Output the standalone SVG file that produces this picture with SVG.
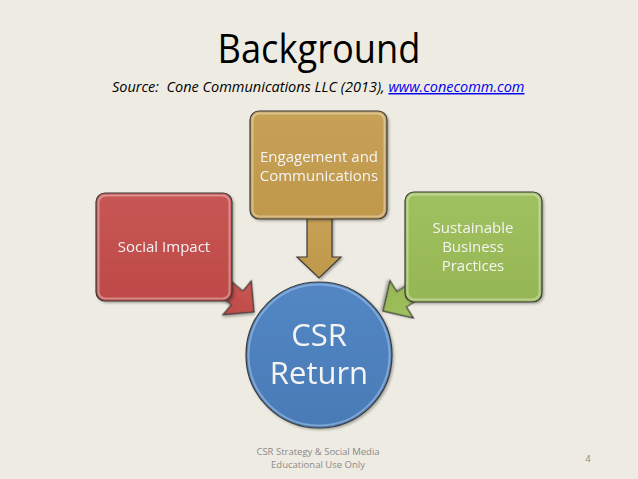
<svg xmlns="http://www.w3.org/2000/svg" width="638" height="479" viewBox="0 0 638 479">
<defs>
<style>
.title{font-family:"Open Sans","Liberation Sans",sans-serif;font-size:40px;fill:#000}
.src{font-family:"Open Sans","Liberation Sans",sans-serif;font-size:14.5px;font-style:italic;fill:#000}
.link{fill:#0000ee;text-decoration:underline}
.lbl{font-family:"Open Sans","Liberation Sans",sans-serif;font-size:15px;fill:#f4f4f4;text-anchor:middle}
.big{font-family:"Open Sans","Liberation Sans",sans-serif;font-size:31px;fill:#f4f4f4;text-anchor:middle}
.foot{font-family:"Open Sans","Liberation Sans",sans-serif;font-size:9.5px;fill:#8a8a8a;text-anchor:middle}
.edge{stroke:#3a3a3a;stroke-width:1.2}
.bevel{fill:none;stroke:#ffffff;stroke-opacity:0.35;stroke-width:2}
</style>
<linearGradient id="gRed" x1="0" y1="0" x2="0" y2="1"><stop offset="0" stop-color="#c85654"/><stop offset="1" stop-color="#bd4a47"/></linearGradient>
<linearGradient id="gGold" x1="0" y1="0" x2="0" y2="1"><stop offset="0" stop-color="#c7a156"/><stop offset="1" stop-color="#bf984b"/></linearGradient>
<linearGradient id="gGreen" x1="0" y1="0" x2="0" y2="1"><stop offset="0" stop-color="#a0c15f"/><stop offset="1" stop-color="#95b653"/></linearGradient>
<linearGradient id="gBlue" x1="0" y1="0" x2="0" y2="1"><stop offset="0" stop-color="#5287c4"/><stop offset="1" stop-color="#4a7bb6"/></linearGradient>
<filter id="sh" x="-10%" y="-10%" width="130%" height="130%"><feDropShadow dx="1.5" dy="1.5" stdDeviation="1.2" flood-color="#000" flood-opacity="0.3"/></filter>
</defs>
<rect width="638" height="479" fill="#eeece2"/>
<text class="title" x="319" y="63" text-anchor="middle" textLength="203" lengthAdjust="spacingAndGlyphs">Background</text>
<text class="src" x="112" y="92" xml:space="preserve">Source:&#160; Cone Communications LLC (2013), <tspan class="link">www.conecomm.com</tspan></text>

<g id="connectors">
<g id="arrow-social" transform="translate(254,312) rotate(40)" filter="url(#sh)">
<polygon class="edge" fill="url(#gRed)" points="0,0 -22,-22 -22,-9 -50,-9 -50,9 -22,9 -22,22"/>
</g>
<g id="arrow-engagement" filter="url(#sh)">
<polygon class="edge" fill="url(#gGold)" points="307,215 332,215 332,257 341,257 319,278 297,257 307,257"/>
</g>
<g id="arrow-sustainable" transform="translate(383,311) rotate(148)" filter="url(#sh)">
<polygon class="edge" fill="url(#gGreen)" points="0,0 -22,-22 -22,-9 -50,-9 -50,9 -22,9 -22,22"/>
<line x1="-40" y1="-5" x2="-27" y2="-5" stroke="#fff" stroke-opacity="0.45" stroke-width="2"/>
</g>
</g>

<g id="node-social" filter="url(#sh)">
<rect class="edge" x="96" y="193" width="136" height="108" rx="9" fill="url(#gRed)"/>
<rect class="bevel" x="98.5" y="195.5" width="131" height="103" rx="7"/>
<text class="lbl" x="164" y="252">Social Impact</text>
</g>

<g id="node-engagement" filter="url(#sh)">
<rect class="edge" x="250" y="111" width="137" height="108" rx="9" fill="url(#gGold)"/>
<rect class="bevel" x="252.5" y="113.5" width="132" height="103" rx="7"/>
<text class="lbl" x="319" y="162">Engagement and</text>
<text class="lbl" x="319" y="181">Communications</text>
</g>

<g id="node-sustainable" filter="url(#sh)">
<rect class="edge" x="405" y="192" width="137" height="110" rx="9" fill="url(#gGreen)"/>
<rect class="bevel" x="407.5" y="194.5" width="132" height="105" rx="7"/>
<text class="lbl" x="473" y="233">Sustainable</text>
<text class="lbl" x="473" y="252">Business</text>
<text class="lbl" x="473" y="271">Practices</text>
</g>

<g id="node-csr" filter="url(#sh)">
<circle class="edge" cx="319" cy="355" r="73" fill="url(#gBlue)"/>
<circle cx="319" cy="355" r="70.5" fill="none" stroke="#a9c6ea" stroke-opacity="0.55" stroke-width="2"/>
<text class="big" x="319" y="346">CSR</text>
<text class="big" x="319" y="384">Return</text>
</g>

<text class="foot" x="318" y="455">CSR Strategy &amp; Social Media</text>
<text class="foot" x="318" y="468">Educational Use Only</text>
<text class="foot" x="588" y="462">4</text>
</svg>
